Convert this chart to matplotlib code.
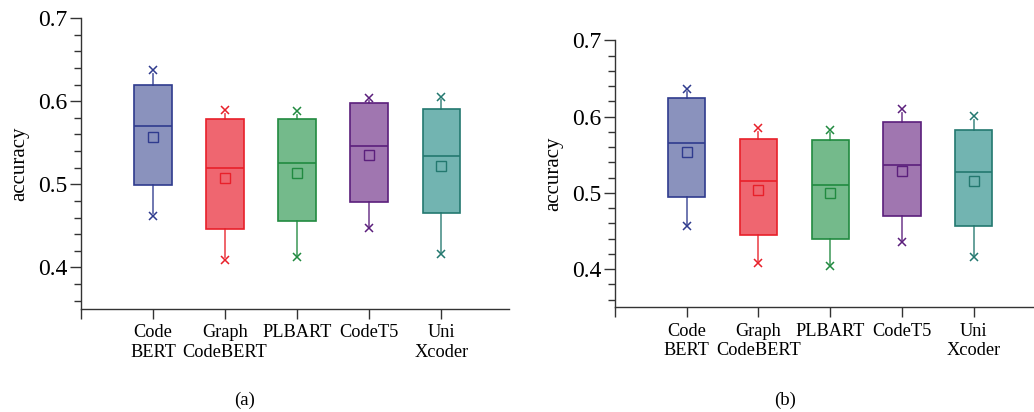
import matplotlib
matplotlib.use("Agg")
import matplotlib.pyplot as plt
from matplotlib.ticker import MultipleLocator

plt.rcParams['font.family'] = ['Liberation Serif', 'DejaVu Serif']

categories = ["Code\nBERT", "Graph\nCodeBERT", "PLBART", "CodeT5", "Uni\nXcoder"]

# panel (a)
a_q1 = [0.499, 0.446, 0.456, 0.479, 0.465]
a_med = [0.570, 0.519, 0.526, 0.546, 0.534]
a_q3 = [0.619, 0.578, 0.579, 0.598, 0.590]
a_mean = [0.557, 0.507, 0.513, 0.535, 0.522]
a_whi = [0.633, 0.584, 0.583, 0.600, 0.601]
a_wlo = [0.466, 0.412, 0.415, 0.450, 0.419]
a_max = [0.638, 0.589, 0.588, 0.604, 0.605]
a_min = [0.462, 0.409, 0.412, 0.447, 0.416]

# panel (b)
b_q1 = [0.494, 0.445, 0.439, 0.470, 0.456]
b_med = [0.565, 0.515, 0.510, 0.537, 0.527]
b_q3 = [0.625, 0.570, 0.569, 0.593, 0.583]
b_mean = [0.554, 0.504, 0.500, 0.529, 0.516]
b_whi = [0.632, 0.580, 0.578, 0.605, 0.596]
b_wlo = [0.459, 0.411, 0.407, 0.438, 0.419]
b_max = [0.636, 0.585, 0.583, 0.610, 0.601]
b_min = [0.456, 0.408, 0.404, 0.435, 0.416]

face_colors = ["#8A92BD", "#EF6670", "#74BA8B", "#A076B0", "#72B4B1"]
edge_colors = ["#2F3B8E", "#E8202A", "#218A40", "#5B1F7C", "#23786F"]

fig = plt.figure(figsize=(10.34, 4.12), dpi=100)
ax_a = fig.add_axes([81/1034, 103/412, 428/1034, 291/412])
ax_b = fig.add_axes([615/1034, 104.7/412, 419/1034, 267/412])


def draw(ax, q1, med, q3, mean, wlo, whi, mn, mx, xmax):
    stats = []
    for i in range(len(categories)):
        stats.append(dict(q1=q1[i], med=med[i], q3=q3[i], mean=mean[i],
                          whislo=wlo[i], whishi=whi[i], fliers=[mn[i], mx[i]]))
    pos = list(range(1, len(categories) + 1))
    res = ax.bxp(stats, positions=pos, widths=0.52, patch_artist=True,
                 showmeans=True, showcaps=False, showfliers=True)
    for i in range(len(categories)):
        ec = edge_colors[i]
        res['boxes'][i].set_facecolor(face_colors[i])
        res['boxes'][i].set_edgecolor(ec)
        res['boxes'][i].set_linewidth(1.2)
        res['medians'][i].set_color(ec)
        res['medians'][i].set_linewidth(1.2)
        for w in res['whiskers'][2*i:2*i+2]:
            w.set_color(ec)
            w.set_alpha(0.75)
            w.set_linewidth(1.3)
        f = res['fliers'][i]
        f.set_marker('x')
        f.set_markeredgecolor(ec)
        f.set_markersize(6)
        f.set_markeredgewidth(1.1)
        m = res['means'][i]
        m.set_marker('s')
        m.set_markerfacecolor('none')
        m.set_markeredgecolor(ec)
        m.set_markersize(7)
        m.set_markeredgewidth(1.0)
    ax.set_xlim(0, xmax)
    ax.set_ylim(0.35, 0.7)
    ax.set_xticks([0] + pos)
    ax.set_xticklabels([""] + categories, fontsize=13.2, linespacing=1.2)
    ax.yaxis.set_major_locator(MultipleLocator(0.1))
    ax.yaxis.set_minor_locator(MultipleLocator(0.02))
    ax.set_yticks([0.4, 0.5, 0.6, 0.7])
    ax.set_yticklabels(["0.4", "0.5", "0.6", "0.7"], fontsize=17)
    ax.tick_params(axis='y', which='major', length=8, width=1, color='#333333', pad=2)
    ax.tick_params(axis='y', which='minor', length=5, width=1, color='#333333')
    ax.tick_params(axis='x', which='major', length=7, width=1, color='#333333', pad=4)
    for s in ['top', 'right']:
        ax.spines[s].set_visible(False)
    for s in ['left', 'bottom']:
        ax.spines[s].set_color('#333333')
        ax.spines[s].set_linewidth(1.0)
    ax.set_ylabel("accuracy", fontsize=15, labelpad=6)


draw(ax_a, a_q1, a_med, a_q3, a_mean, a_wlo, a_whi, a_min, a_max, 5.94)
draw(ax_b, b_q1, b_med, b_q3, b_mean, b_wlo, b_whi, b_min, b_max, 5.84)

fig.text(245/1034, 1 - 400/412, "(a)", ha='center', va='center', fontsize=13.5)
fig.text(785/1034, 1 - 400/412, "(b)", ha='center', va='center', fontsize=13.5)

fig.savefig("out.png", dpi=100)
